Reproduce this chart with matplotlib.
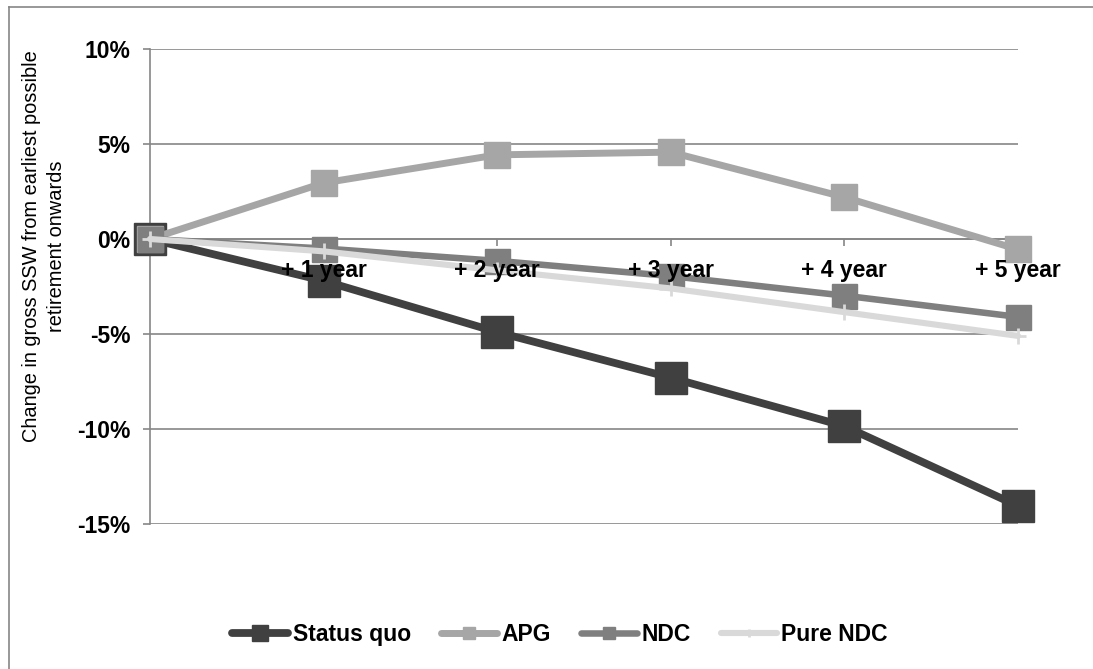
import matplotlib
matplotlib.use("Agg")
import matplotlib.pyplot as plt
from matplotlib.lines import Line2D
from matplotlib.ticker import FuncFormatter

plt.rcParams['font.family'] = ['Liberation Sans', 'DejaVu Sans']

categories = ["", "+ 1 year", "+ 2 year", "+ 3 year", "+ 4 year", "+ 5 year"]
status_quo = [0, -2.2, -4.9, -7.3, -9.85, -14.05]
apg = [0, 2.95, 4.43, 4.57, 2.2, -0.55]
ndc = [0, -0.5, -1.15, -1.95, -2.98, -4.1]
pure_ndc = [0, -0.65, -1.65, -2.6, -3.85, -5.1]
y_ticks = [-15, -10, -5, 0, 5, 10]

W, H = 1093, 669
fig = plt.figure(figsize=(W / 100, H / 100), dpi=100)
ax = fig.add_axes([150 / W, (H - 524) / H, 868 / W, 475 / H])

grid_c = '#868686'
x = list(range(len(categories)))

series = [
    ("Status quo", status_quo, '#404040', 's', 22.5, 5.6, None),
    ("APG", apg, '#a6a6a6', 's', 18.5, 5.0, None),
    ("NDC", ndc, '#7f7f7f', 's', 18, 4.7, None),
    ("Pure NDC", pure_ndc, '#d9d9d9', '+', 12, 4.4, 2.0),
]
for i, (name, vals, col, mk, ms, lw, mew) in enumerate(series):
    kw = dict(color=col, marker=mk, markersize=ms, linewidth=lw,
              markerfacecolor=col, markeredgecolor=col,
              solid_joinstyle='round', solid_capstyle='round',
              label=name, zorder=3 + i, clip_on=False)
    if mew is not None:
        kw['markeredgewidth'] = mew
    ax.plot(x, vals, **kw)

ax.set_xlim(0, len(categories) - 1)
ax.set_ylim(-15, 10)
ax.set_yticks(y_ticks)
ax.yaxis.set_major_formatter(FuncFormatter(lambda v, p: f"{v:.0f}%"))
ax.set_xticks(x)
ax.set_xticklabels([""] * len(categories))

for s in ['top', 'right']:
    ax.spines[s].set_visible(False)
ax.spines['left'].set_color(grid_c)
ax.spines['left'].set_linewidth(1.2)
ax.spines['bottom'].set_position(('data', 0))
ax.spines['bottom'].set_color(grid_c)
ax.spines['bottom'].set_linewidth(1.2)

ax.yaxis.grid(True, color=grid_c, linewidth=1.2)
ax.set_axisbelow(True)
ax.tick_params(axis='y', direction='out', length=5, width=1.2, color=grid_c,
               pad=9, labelsize=16.5)
ax.tick_params(axis='x', direction='out', length=5, width=1.2, color=grid_c)
for lab in ax.get_yticklabels():
    lab.set_fontweight('bold')

for xi, lab in zip(x, categories):
    ax.annotate(lab, xy=(xi, 0), xytext=(0, -27.4), textcoords='offset points',
                ha='center', va='baseline', fontsize=16.5, fontweight='bold',
                zorder=20, annotation_clip=False)

fig.text(44 / W, 1 - 246 / H,
         "Change in gross SSW from earliest possible\nretirement onwards",
         rotation=90, ha='center', va='center', fontsize=14.4, linespacing=1.4)

leg = fig.legend(loc='center', bbox_to_anchor=(560 / W, (H - 634.5) / H),
                 ncol=4, frameon=False, handlelength=2.45,
                 handletextpad=0.2, columnspacing=1.3, markerscale=0.5,
                 prop={'weight': 'bold', 'size': 16.5})

# outer chart-area border (only top and left edges visible in the crop)
top_y = 1 - 7 / H
left_x = 9 / W
fig.add_artist(Line2D([left_x, 1.0], [top_y, top_y], transform=fig.transFigure,
                      color=grid_c, linewidth=1.2))
fig.add_artist(Line2D([left_x, left_x], [0.0, top_y], transform=fig.transFigure,
                      color=grid_c, linewidth=1.2))

fig.savefig("out.png", dpi=100)
